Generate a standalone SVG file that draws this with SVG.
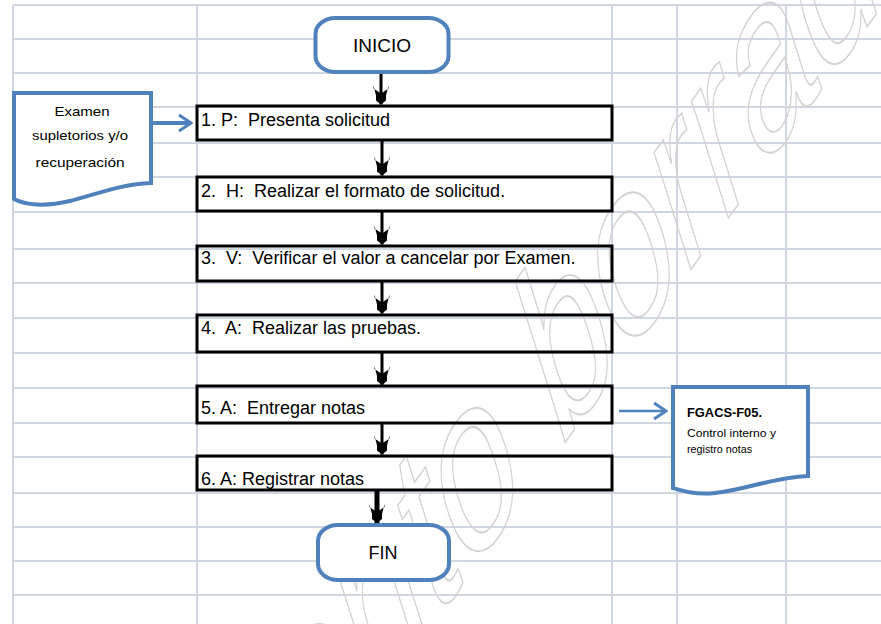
<svg xmlns="http://www.w3.org/2000/svg" width="881" height="624" viewBox="0 0 881 624">
  <style>
    .grid line { stroke: #d0d7e3; stroke-width: 2; }
    .wm { fill: none; stroke: #d2d2d2; stroke-width: 1.6; font-family: "Liberation Sans", Arial, sans-serif; font-style: italic; font-size: 145px; }
    .step { fill: none; stroke: #000; stroke-width: 3; }
    .term { fill: #fff; stroke: #4f81bd; stroke-width: 4; }
    .doc { fill: #fff; stroke: #4f81bd; stroke-width: 4; stroke-linejoin: miter; }
    .t { font-family: "Liberation Sans", Arial, sans-serif; fill: #000; white-space: pre; }
    .lbl { font-size: 18px; }
    .small { font-size: 13px; }
    .flow { fill: none; stroke: #000; stroke-width: 3; marker-end: url(#headBlack); }
    .side { fill: none; stroke: #4f81bd; }
  </style>
  <defs>
    <marker id="headBlack" viewBox="-20 -8 21 16" markerWidth="21" markerHeight="16" refX="0" refY="0" orient="auto" markerUnits="userSpaceOnUse">
      <path d="M-19,-7.5 L-16,-7.5 L-11,0 L-16,7.5 L-19,7.5 L-9,5 L-4,5 L0,0 L-4,-5 L-9,-5 Z" fill="#000"/>
    </marker>
    <marker id="headBlue" viewBox="-16 -10 18 20" markerWidth="18" markerHeight="20" refX="0" refY="0" orient="auto" markerUnits="userSpaceOnUse">
      <path d="M-12,-8 L0,0 L-12,8" fill="none" stroke="#4f81bd" stroke-width="3"/>
    </marker>
  </defs>

  <rect width="881" height="624" fill="#fff"/>

  <!-- spreadsheet grid -->
  <g class="grid">
    <line x1="13" y1="5" x2="881" y2="5"/>
    <line x1="13" y1="39" x2="881" y2="39"/>
    <line x1="13" y1="73" x2="881" y2="73"/>
    <line x1="13" y1="107" x2="881" y2="107"/>
    <line x1="13" y1="143" x2="881" y2="143"/>
    <line x1="13" y1="177" x2="881" y2="177"/>
    <line x1="13" y1="212" x2="881" y2="212"/>
    <line x1="13" y1="249" x2="881" y2="249"/>
    <line x1="13" y1="283" x2="881" y2="283"/>
    <line x1="13" y1="318" x2="881" y2="318"/>
    <line x1="13" y1="353" x2="881" y2="353"/>
    <line x1="13" y1="388" x2="881" y2="388"/>
    <line x1="13" y1="423" x2="881" y2="423"/>
    <line x1="13" y1="457" x2="881" y2="457"/>
    <line x1="13" y1="493" x2="881" y2="493"/>
    <line x1="13" y1="527" x2="881" y2="527"/>
    <line x1="13" y1="561" x2="881" y2="561"/>
    <line x1="13" y1="595" x2="881" y2="595"/>
    <line x1="13" y1="5" x2="13" y2="624"/>
    <line x1="197" y1="5" x2="197" y2="624"/>
    <line x1="612" y1="5" x2="612" y2="624"/>
    <line x1="677" y1="5" x2="677" y2="624"/>
    <line x1="786" y1="5" x2="786" y2="624"/>
  </g>

  <!-- outlined watermark, stretched and tilted across the sheet -->
  <g id="watermark" transform="translate(548,466) scale(1,1.7) rotate(-39)">
    <text class="wm" x="-20" y="0" text-anchor="end" vector-effect="non-scaling-stroke">Documento</text>
    <text class="wm" x="20" y="0" vector-effect="non-scaling-stroke">borrador</text>
  </g>

  <!-- connectors -->
  <g id="connectors">
    <line class="flow" x1="381" y1="74" x2="381" y2="104.5"/>
    <line class="flow" x1="382" y1="141" x2="382" y2="175.5"/>
    <line class="flow" x1="382" y1="212" x2="382" y2="244.5"/>
    <line class="flow" x1="382" y1="282" x2="382" y2="313.5"/>
    <line class="flow" x1="382" y1="353" x2="382" y2="385"/>
    <line class="flow" x1="382" y1="424" x2="382" y2="454.5"/>
    <line class="flow" x1="377" y1="491" x2="377" y2="523" style="stroke-width:5"/>
    <line class="side" x1="153" y1="123" x2="191" y2="123" stroke-width="4" marker-end="url(#headBlue)"/>
    <line class="side" x1="619" y1="411" x2="666" y2="411" stroke-width="2.5" marker-end="url(#headBlue)"/>
  </g>

  <!-- start -->
  <g id="inicio">
    <rect class="term" x="315.5" y="18" width="133" height="54" rx="20" ry="16"/>
    <text class="t" x="382" y="52" font-size="19" text-anchor="middle">INICIO</text>
  </g>

  <!-- input document -->
  <g id="doc-examen">
    <path class="doc" d="M14,93 H151 V183 C120,184 95,195 70,201 C45,207 25,205 14,199 Z"/>
    <text class="t small" x="82" y="116" text-anchor="middle" textLength="55" lengthAdjust="spacingAndGlyphs">Examen</text>
    <text class="t small" x="80" y="140" text-anchor="middle" textLength="96" lengthAdjust="spacingAndGlyphs">supletorios y/o</text>
    <text class="t small" x="80" y="167" text-anchor="middle" textLength="89" lengthAdjust="spacingAndGlyphs">recuperación</text>
  </g>

  <!-- process steps -->
  <g id="step1">
    <rect class="step" x="197" y="106" width="415" height="34"/>
    <text class="t lbl" x="201" y="126">1. P:  Presenta solicitud</text>
  </g>
  <g id="step2">
    <rect class="step" x="197" y="177" width="415" height="34"/>
    <text class="t lbl" x="201" y="197">2.  H:  Realizar el formato de solicitud.</text>
  </g>
  <g id="step3">
    <rect class="step" x="197" y="246" width="415" height="35"/>
    <text class="t lbl" x="201" y="264">3.  V:  Verificar el valor a cancelar por Examen.</text>
  </g>
  <g id="step4">
    <rect class="step" x="197" y="315" width="415" height="37"/>
    <text class="t lbl" x="201" y="334">4.  A:  Realizar las pruebas.</text>
  </g>
  <g id="step5">
    <rect class="step" x="197" y="386" width="415" height="37"/>
    <text class="t lbl" x="201" y="414">5. A:  Entregar notas</text>
  </g>
  <g id="step6">
    <rect class="step" x="197" y="456" width="415" height="34"/>
    <text class="t lbl" x="201" y="485">6. A: Registrar notas</text>
  </g>

  <!-- output document -->
  <g id="doc-registro">
    <path class="doc" d="M673,387 H808 V476 C770,478 745,490 715,493 C695,495 683,491 673,488 Z"/>
    <text class="t" x="687" y="417" font-size="12" font-weight="bold" textLength="75" lengthAdjust="spacingAndGlyphs">FGACS-F05.</text>
    <text class="t" x="687" y="437" font-size="10" textLength="89" lengthAdjust="spacingAndGlyphs">Control interno y</text>
    <text class="t" x="687" y="453" font-size="10" textLength="65" lengthAdjust="spacingAndGlyphs">registro notas</text>
  </g>

  <!-- end -->
  <g id="fin">
    <rect class="term" x="318" y="525" width="131" height="55" rx="20" ry="16"/>
    <text class="t" x="383" y="559" font-size="18" text-anchor="middle">FIN</text>
  </g>
</svg>
